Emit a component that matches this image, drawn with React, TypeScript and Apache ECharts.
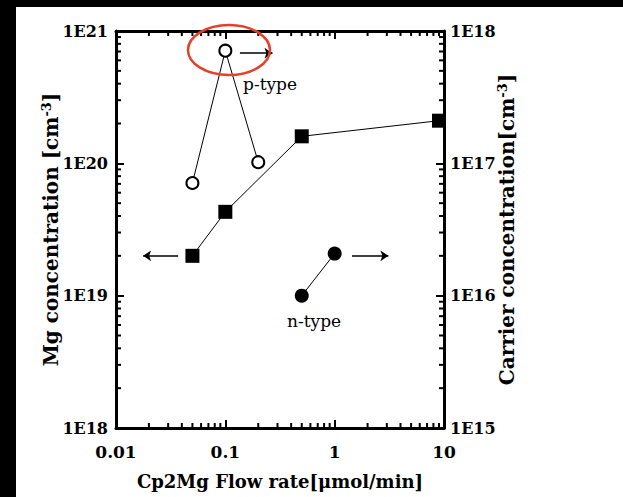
import React, { useEffect, useRef } from "react";
import * as echarts from "echarts";

// ---- data ----
const xTickLabels = ["0.01", "0.1", "1", "10"];
const mgFlow = [0.05, 0.1, 0.5, 9];
const mgConc = [2.0e19, 4.3e19, 1.6e20, 2.1e20];
const pFlow = [0.05, 0.1, 0.2];
const pCarrier = [7.1e16, 7.1e17, 1.02e17];
const nFlow = [0.5, 1];
const nCarrier = [1.0e16, 2.08e16];
const xMinor = [2, 3, 4, 5, 6, 7, 8, 9].flatMap((m) => [m * 0.01, m * 0.1, m * 1]);
const yMinor = [2, 3, 4, 5, 6, 7, 8, 9].flatMap((m) => [m * 1e18, m * 1e19, m * 1e20]);
// arrows (data coords)
const leftArrow = [[0.037, 2.0e19], [0.0177, 2.0e19]];
const pArrow = [[0.136, 6.8e17], [0.27, 6.8e17]];
const nArrow = [[1.44, 2.0e16], [3.1, 2.0e16]];

const SERIF = "DejaVu Serif";

export default function App() {
  const ref = useRef<HTMLDivElement>(null);
  useEffect(() => {
    const chart = echarts.init(ref.current!, null, { renderer: "svg" });
    const tickCommon = { inside: true, length: 8, lineStyle: { color: "#000", width: 2 } };
    const axisLine = { show: true, lineStyle: { color: "#000", width: 3 } };
    const arrowMark = (pts: number[][]) => ({
      silent: true,
      symbol: ["none", "arrow"],
      symbolSize: 8,
      label: { show: false },
      lineStyle: { color: "#000", width: 1.5, type: "solid" },
      itemStyle: { color: "#000" },
      emphasis: { disabled: true },
      data: [[{ coord: pts[0] }, { coord: pts[1] }]],
    });
    const labelStyle = {
      color: "#000",
      fontFamily: SERIF,
      fontWeight: "bold",
      fontSize: 16,
    };
    const nameStyle = {
      color: "#000",
      fontFamily: SERIF,
      fontWeight: "bold",
      fontSize: 20,
      rich: { sup: { fontFamily: SERIF, fontWeight: "bold", fontSize: 13, color: "#000", padding: [0, 0, 9, 0] } },
    };
    chart.setOption({
      animation: false,
      backgroundColor: "#fff",
      grid: { left: 100, top: 24, right: 179, bottom: 69 },
      xAxis: [
        {
          type: "log",
          min: 0.01,
          max: 10,
          logBase: 10,
          axisLine,
          axisTick: tickCommon,
          splitLine: { show: false },
          axisLabel: {
            ...labelStyle,
            fontSize: 17,
            margin: 15,
            formatter: (v: number) => xTickLabels[Math.round(Math.log10(v)) + 2],
          },
          name: "Cp2Mg Flow rate[μmol/min]",
          nameLocation: "middle",
          nameGap: 44,
          nameMoveOverlap: false,
          nameTextStyle: { color: "#000", fontFamily: SERIF, fontWeight: "bold", fontSize: 18 },
        },
        {
          type: "log",
          position: "top",
          min: 0.01,
          max: 10,
          axisLine,
          axisTick: tickCommon,
          axisLabel: { show: false },
          splitLine: { show: false },
        },
      ],
      yAxis: [
        {
          type: "log",
          min: 1e18,
          max: 1e21,
          axisLine,
          axisTick: tickCommon,
          splitLine: { show: false },
          axisLabel: {
            ...labelStyle,
            margin: 8,
            formatter: (v: number) => "1E" + Math.round(Math.log10(v)),
          },
          name: "Mg concentration [cm{sup|-3}]",
          nameLocation: "middle",
          nameRotate: 90,
          nameGap: 54,
          nameMoveOverlap: false,
          nameTextStyle: nameStyle,
        },
        {
          type: "log",
          position: "right",
          min: 1e15,
          max: 1e18,
          axisLine,
          axisTick: tickCommon,
          splitLine: { show: false },
          axisLabel: {
            ...labelStyle,
            margin: 6,
            formatter: (v: number) => "1E" + Math.round(Math.log10(v)),
          },
          name: "Carrier concentration[cm{sup|-3}]",
          nameLocation: "middle",
          nameRotate: 90,
          nameGap: 52,
          nameMoveOverlap: false,
          nameTextStyle: nameStyle,
        },
      ],
      series: [
        {
          type: "custom",
          xAxisIndex: 0,
          yAxisIndex: 0,
          silent: true,
          clip: false,
          data: xMinor.map((v) => [v, 1e18]),
          renderItem: (params: any, api: any) => {
            const v = api.value(0);
            const b = api.coord([v, 1e18]);
            const t = api.coord([v, 1e21]);
            const st = { stroke: "#000", lineWidth: 2 };
            return {
              type: "group",
              children: [
                { type: "line", shape: { x1: b[0], y1: b[1], x2: b[0], y2: b[1] - 5 }, style: st },
                { type: "line", shape: { x1: t[0], y1: t[1], x2: t[0], y2: t[1] + 5 }, style: st },
              ],
            };
          },
        },
        {
          type: "custom",
          xAxisIndex: 0,
          yAxisIndex: 0,
          silent: true,
          clip: false,
          data: yMinor.map((v) => [0.01, v]),
          renderItem: (params: any, api: any) => {
            const v = api.value(1);
            const l = api.coord([0.01, v]);
            const r = api.coord([10, v]);
            const st = { stroke: "#000", lineWidth: 2 };
            return {
              type: "group",
              children: [
                { type: "line", shape: { x1: l[0], y1: l[1], x2: l[0] + 5, y2: l[1] }, style: st },
                { type: "line", shape: { x1: r[0], y1: r[1], x2: r[0] - 5, y2: r[1] }, style: st },
              ],
            };
          },
        },
        {
          name: "Mg",
          type: "line",
          xAxisIndex: 0,
          yAxisIndex: 0,
          data: mgFlow.map((x, i) => [x, mgConc[i]]),
          symbol: "rect",
          symbolSize: 14,
          itemStyle: { color: "#000" },
          lineStyle: { color: "#000", width: 1 },
          markLine: arrowMark(leftArrow),
          z: 3,
        },
        {
          name: "p-type",
          type: "line",
          xAxisIndex: 0,
          yAxisIndex: 1,
          data: pFlow.map((x, i) => [x, pCarrier[i]]),
          symbol: "circle",
          symbolSize: 12,
          itemStyle: { color: "#fff", borderColor: "#000", borderWidth: 2 },
          lineStyle: { color: "#000", width: 1 },
          markLine: arrowMark(pArrow),
          z: 3,
        },
        {
          name: "n-type",
          type: "line",
          xAxisIndex: 0,
          yAxisIndex: 1,
          data: nFlow.map((x, i) => [x, nCarrier[i]]),
          symbol: "circle",
          symbolSize: 14,
          itemStyle: { color: "#000" },
          lineStyle: { color: "#000", width: 1 },
          markLine: arrowMark(nArrow),
          z: 3,
        },
      ],
      graphic: [
        {
          type: "text",
          left: 227,
          top: 68,
          style: { text: "p-type", fill: "#000", font: `17px "${SERIF}"` },
        },
        {
          type: "text",
          left: 271,
          top: 305,
          style: { text: "n-type", fill: "#000", font: `17px "${SERIF}"` },
        },
        {
          type: "ellipse",
          shape: { cx: 213, cy: 43, rx: 41, ry: 25 },
          style: { fill: "none", stroke: "#e5402a", lineWidth: 2.5 },
          z: 100,
        },
      ],
    });
    return () => chart.dispose();
  }, []);
  return (
    <div style={{ position: "fixed", left: 0, top: 0, width: 623, height: 497, background: "#000" }}>
      <div ref={ref} style={{ position: "absolute", left: 16, top: 7, width: 607, height: 490 }} />
    </div>
  );
}
